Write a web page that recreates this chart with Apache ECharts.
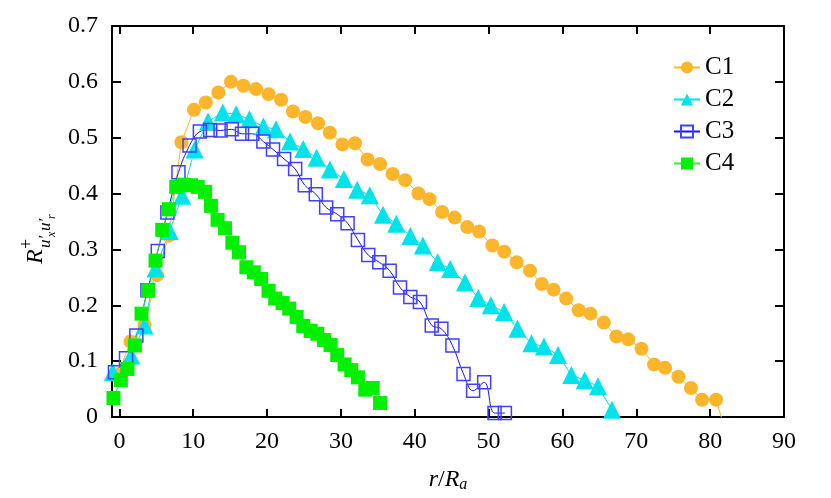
<!DOCTYPE html>
<html>
<head>
<meta charset="utf-8">
<script src="https://cdn.jsdelivr.net/npm/echarts@6/dist/echarts.min.js"></script>
<style>
  html, body { margin: 0; padding: 0; background: #fff; }
  #chart { width: 831px; height: 498px; }
</style>
</head>
<body>
<div id="chart"></div>
<script>
// tick labels
var xTicks = [0, 10, 20, 30, 40, 50, 60, 70, 80, 90];

// C1 - orange circles
var c1X = [-0.2, 1.5, 3.4, 5.1, 6.7, 8.4, 10.1, 11.7, 13.4, 15.1, 16.8, 18.5, 20.2, 21.9, 23.5, 25.2, 26.9, 28.5, 30.2, 31.9,
           33.6, 35.3, 37.0, 38.7, 40.5, 42.0, 43.7, 45.4, 47.1, 48.7, 50.5, 52.1, 53.8, 55.6, 57.2, 58.8, 60.5, 62.2, 63.8, 65.6,
           67.3, 68.9, 70.7, 72.4, 73.9, 75.7, 77.4, 78.9, 80.8, 82.5];
var c1Y = [0.075, 0.135, 0.165, 0.254, 0.325, 0.492, 0.550, 0.563, 0.581, 0.600, 0.593, 0.587, 0.578, 0.568, 0.547, 0.537, 0.526, 0.509, 0.488, 0.490,
           0.461, 0.453, 0.435, 0.424, 0.400, 0.390, 0.367, 0.357, 0.340, 0.332, 0.307, 0.296, 0.277, 0.262, 0.238, 0.228, 0.212, 0.191, 0.185, 0.169,
           0.144, 0.139, 0.122, 0.094, 0.088, 0.072, 0.052, 0.031, 0.031, -0.044];

// C2 - cyan triangles
var c2X = [-0.9, 1.6, 3.4, 4.9, 6.8, 8.5, 10.2, 12.0, 14.0, 15.8, 17.6, 19.5, 21.2, 23.1, 24.9, 26.7, 28.5, 30.4, 32.2, 33.9,
           35.7, 37.5, 39.4, 41.1, 43.1, 44.8, 46.8, 48.6, 50.3, 52.1, 53.9, 55.8, 57.5, 59.4, 61.2, 63.0, 64.8, 66.7];
var c2Y = [0.080, 0.110, 0.164, 0.266, 0.333, 0.396, 0.479, 0.529, 0.545, 0.542, 0.533, 0.520, 0.515, 0.493, 0.480, 0.464, 0.443, 0.426, 0.407, 0.397,
           0.362, 0.346, 0.324, 0.307, 0.277, 0.265, 0.241, 0.213, 0.200, 0.188, 0.158, 0.132, 0.126, 0.111, 0.075, 0.066, 0.055, 0.013];

// C3 - blue open squares
var c3X = [-0.6, 0.9, 2.3, 3.8, 5.2, 6.5, 8.0, 9.5, 10.9, 12.3, 13.7, 15.2, 16.6, 18.0, 19.5, 20.8, 22.3, 23.8, 25.1, 26.6,
           28.0, 29.5, 30.9, 32.3, 33.7, 35.2, 36.6, 38.0, 39.4, 40.7, 42.3, 43.6, 45.1, 46.6, 47.9, 49.4, 50.8, 52.2];
var c3Y = [0.080, 0.105, 0.146, 0.227, 0.297, 0.366, 0.438, 0.486, 0.511, 0.514, 0.513, 0.515, 0.507, 0.507, 0.493, 0.479, 0.462, 0.444, 0.415, 0.399,
           0.375, 0.363, 0.347, 0.317, 0.290, 0.277, 0.262, 0.232, 0.215, 0.206, 0.164, 0.158, 0.128, 0.077, 0.047, 0.062, 0.007, 0.007];

// C4 - green filled squares
var c4X = [-0.8, 0.2, 1.1, 2.1, 3.0, 3.9, 4.9, 5.8, 6.7, 7.7, 8.7, 9.7, 10.6, 11.6, 12.4, 13.3, 14.3, 15.3, 16.2, 17.2,
           18.2, 19.2, 20.2, 21.1, 22.1, 23.0, 24.0, 24.9, 25.9, 26.8, 27.7, 28.6, 29.5, 30.5, 31.4, 32.3, 33.3, 34.3, 35.3];
var c4Y = [0.034, 0.066, 0.086, 0.128, 0.185, 0.227, 0.280, 0.335, 0.372, 0.412, 0.416, 0.415, 0.412, 0.403, 0.378, 0.353, 0.338, 0.312, 0.295, 0.268,
           0.259, 0.247, 0.226, 0.212, 0.204, 0.194, 0.179, 0.163, 0.154, 0.149, 0.138, 0.129, 0.111, 0.094, 0.084, 0.071, 0.049, 0.052, 0.025];

function pairs(xs, ys) {
    return xs.map(function (x, i) { return [x, ys[i]]; });
}

var serif = '"Liberation Serif", "DejaVu Serif", serif';
var black = '#000';

var chart = echarts.init(document.getElementById('chart'), null, {renderer: 'canvas'});

// frame axes: the top and right copies only carry the inward ticks
function xAxisOpt(pos, withLabels) {
    return {
        type: 'value', position: pos, min: -1, max: 90,
        axisLine: {show: true, onZero: false, lineStyle: {color: black, width: 2}},
        axisTick: {show: true, inside: true, length: 8, customValues: xTicks, lineStyle: {color: black, width: 2}},
        axisLabel: {show: withLabels, customValues: xTicks, margin: 13, color: black, fontFamily: serif, fontSize: 24},
        splitLine: {show: false}
    };
}
function yAxisOpt(pos, withLabels) {
    return {
        type: 'value', position: pos, min: 0, max: 0.7, interval: 0.1,
        axisLine: {show: true, onZero: false, lineStyle: {color: black, width: 2}},
        axisTick: {show: true, inside: true, length: 9, lineStyle: {color: black, width: 2}},
        axisLabel: {show: withLabels, margin: 14, color: black, fontFamily: serif, fontSize: 24},
        splitLine: {show: false}
    };
}

var xBottom = xAxisOpt('bottom', true);
xBottom.name = '{i|r}{n|/}{i|R}{s|a}';
xBottom.nameLocation = 'middle';
xBottom.nameGap = 50;
xBottom.nameTextStyle = {
    rich: {
        i: {fontFamily: serif, fontStyle: 'italic', fontSize: 24, color: black},
        n: {fontFamily: serif, fontSize: 24, color: black},
        s: {fontFamily: serif, fontStyle: 'italic', fontSize: 16, color: black, padding: [10, 0, 0, 0]}
    }
};

var italic = function (t, x, y, size) {
    return {type: 'text', x: x, y: y,
        style: {text: t, font: 'italic ' + size + 'px "Liberation Serif"', fill: black, verticalAlign: 'middle'}};
};

chart.setOption({
    animation: false,
    backgroundColor: '#fff',
    grid: {left: 112, right: 47, top: 26, bottom: 79},
    xAxis: [xBottom, xAxisOpt('top', false)],
    yAxis: [yAxisOpt('left', true), yAxisOpt('right', false)],
    legend: {
        orient: 'vertical', left: 668, top: 50,
        itemWidth: 26, itemHeight: 15, itemGap: 7,
        textStyle: {fontFamily: serif, fontSize: 25, color: black, lineHeight: 25},
        data: ['C1', 'C2', 'C3', 'C4']
    },
    // y axis title R+_{u'x u'r}, drawn as rotated text pieces
    graphic: [{
        type: 'group', x: 44, y: 264, rotation: Math.PI / 2,
        children: [
            italic('R', 0, -8, 24),
            {type: 'text', x: 15, y: -17, style: {text: '+', font: '18px "Liberation Serif"', fill: black, verticalAlign: 'middle'}},
            italic('u\u2032', 16, 2, 17),
            italic('x', 27, 8, 12),
            italic('u\u2032', 33, 2, 17),
            italic('r', 45, 8, 12)
        ]
    }],
    series: [
        {
            name: 'C1', type: 'line', data: pairs(c1X, c1Y),
            symbol: 'circle', symbolSize: 14,
            itemStyle: {color: '#fdb62c'},
            lineStyle: {color: '#fdb62c', width: 1}
        },
        {
            name: 'C2', type: 'line', data: pairs(c2X, c2Y),
            symbol: 'triangle', symbolSize: 18,
            itemStyle: {color: '#00e3ea'},
            lineStyle: {color: '#00e3ea', width: 1}
        },
        {
            name: 'C3', type: 'line', data: pairs(c3X, c3Y),
            symbol: 'rect', symbolSize: 13, smooth: 0.4,
            itemStyle: {color: 'rgba(255,255,255,0)', borderColor: '#4040ff', borderWidth: 1.5},
            lineStyle: {color: '#1515f0', width: 1}
        },
        {
            name: 'C4', type: 'line', data: pairs(c4X, c4Y),
            symbol: 'rect', symbolSize: 14,
            itemStyle: {color: '#00f000'},
            lineStyle: {color: '#33ee33', width: 1}
        }
    ]
});
</script>
</body>
</html>
